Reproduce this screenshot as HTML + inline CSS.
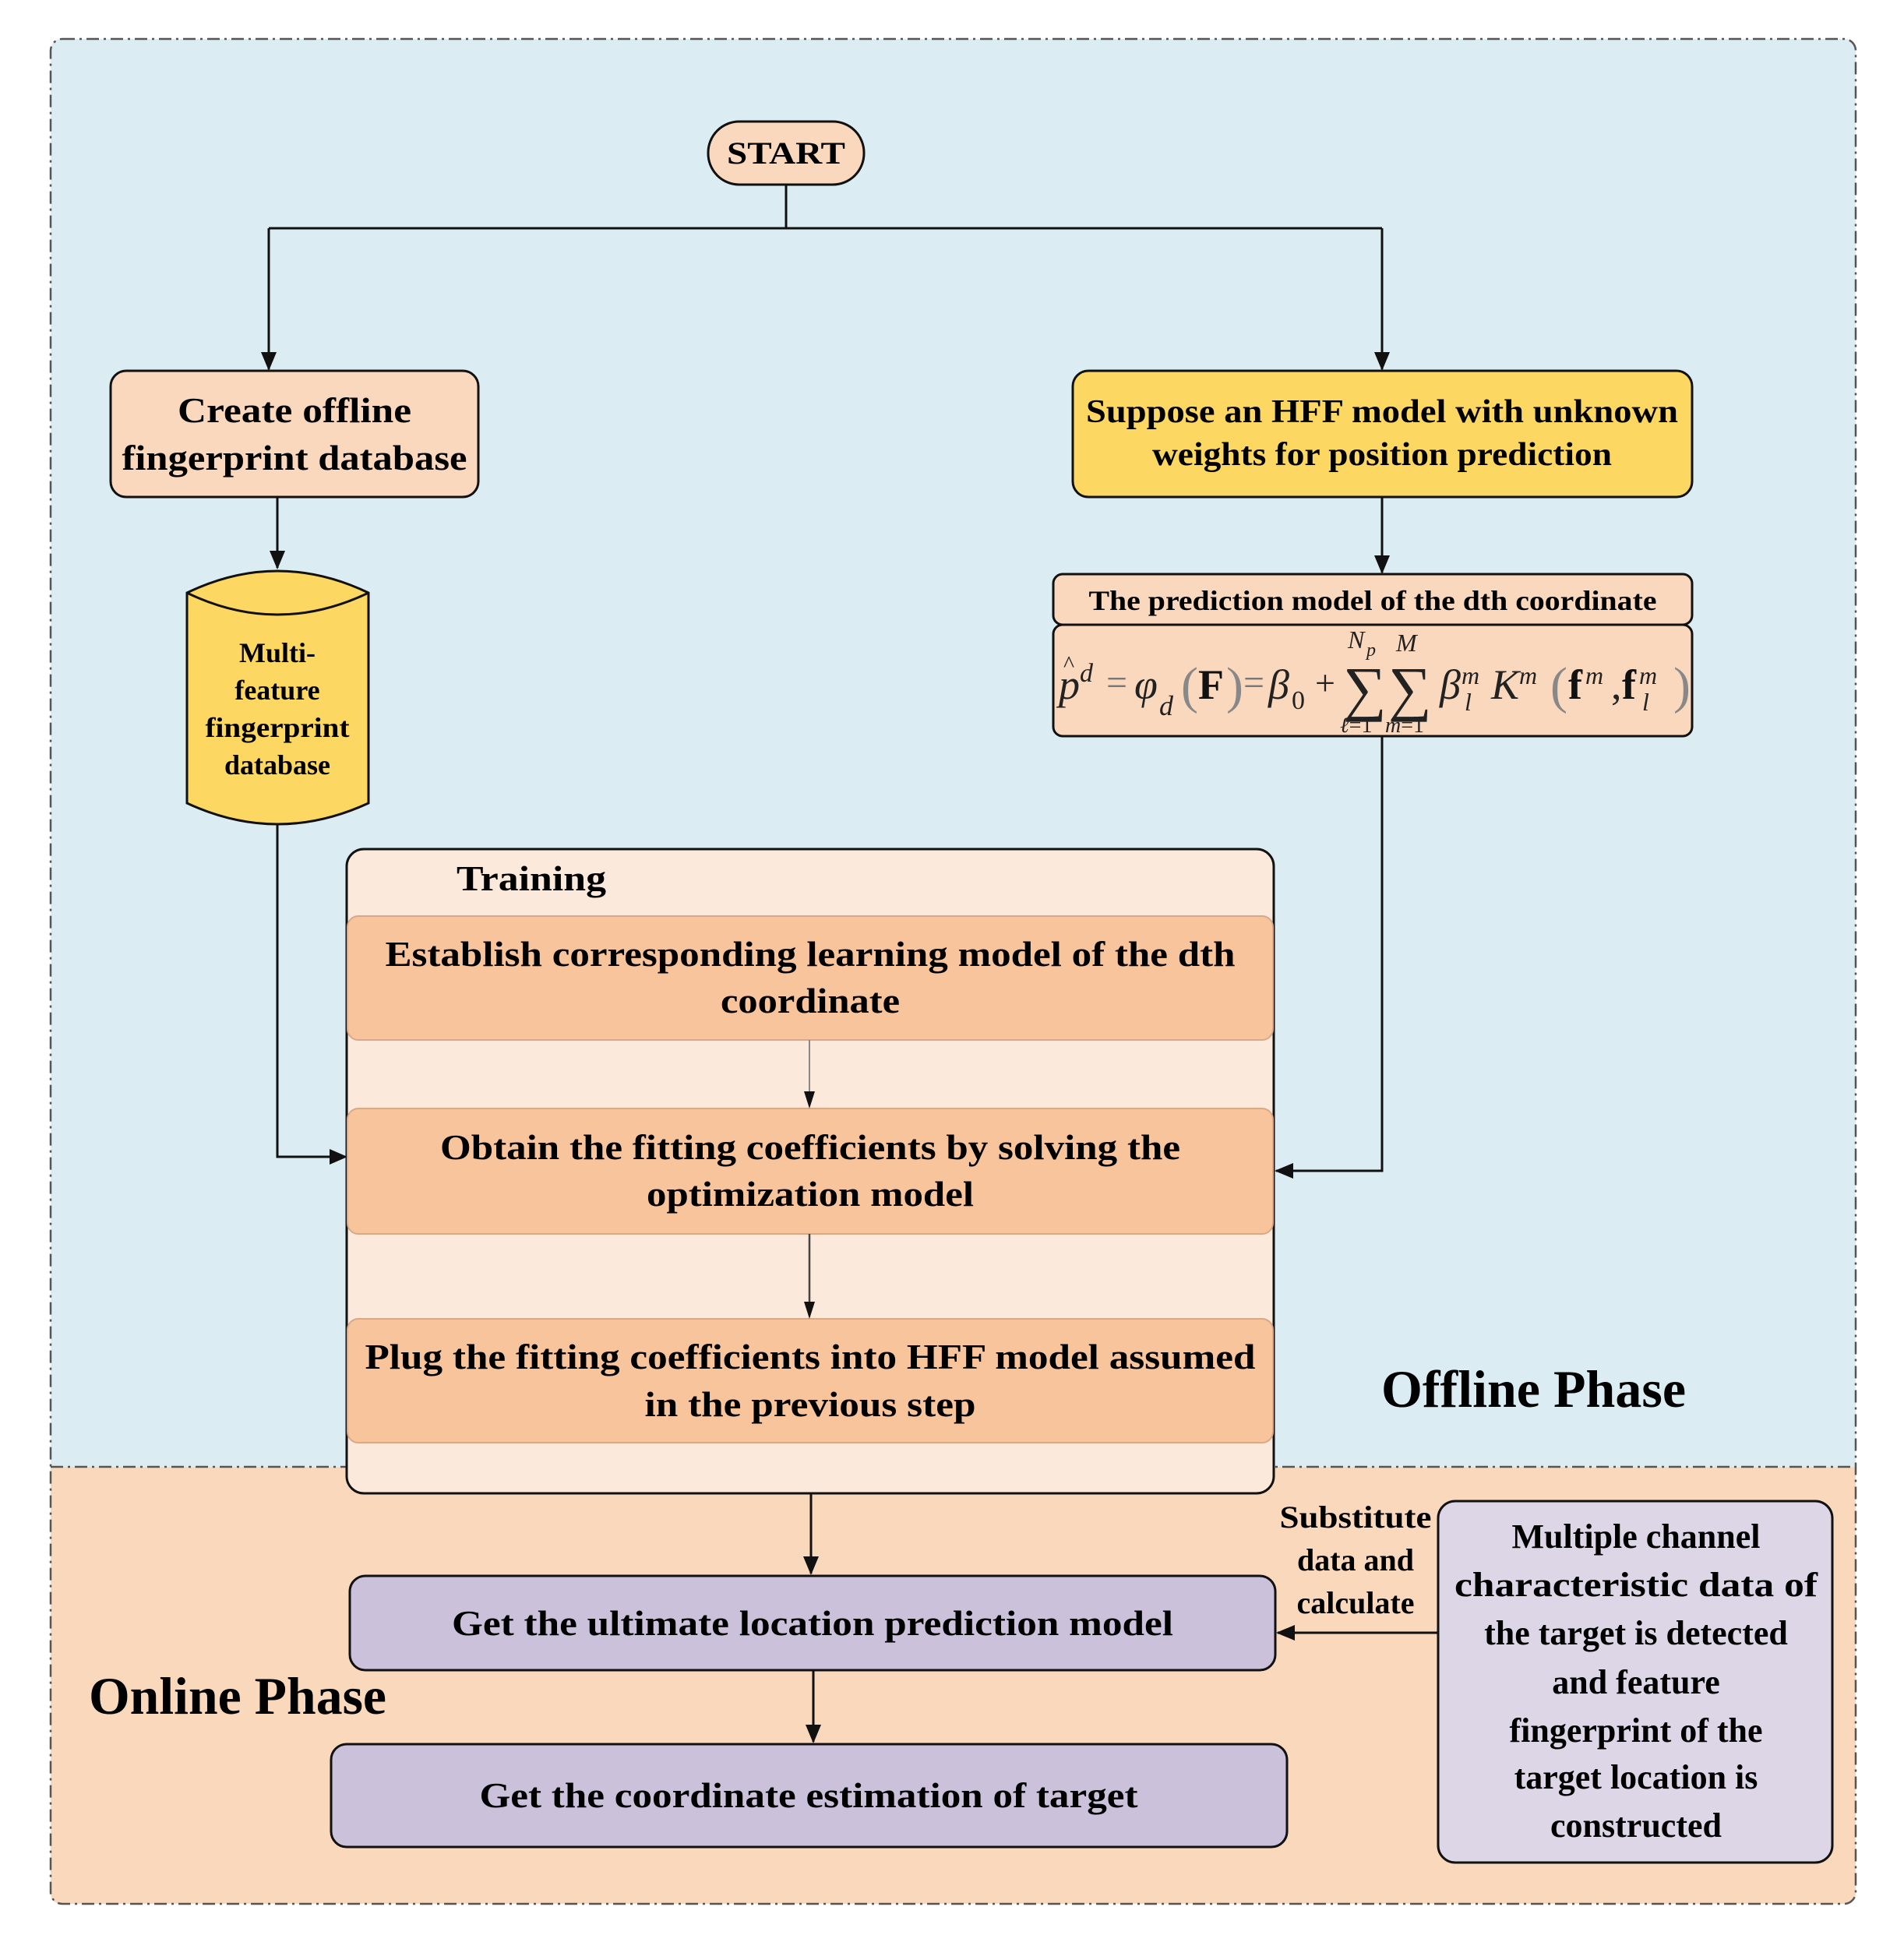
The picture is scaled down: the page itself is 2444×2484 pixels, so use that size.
<!DOCTYPE html>
<html><head><meta charset="utf-8"><style>html,body{margin:0;padding:0;background:#fff}svg{display:block}</style></head>
<body>
<svg width="2444" height="2484" viewBox="0 0 2444 2484" xmlns="http://www.w3.org/2000/svg" font-family="'Liberation Serif', serif" font-weight="bold">
<path d="M80,50 H2367 Q2382,50 2382,65 V1883 H65 V65 Q65,50 80,50 Z" fill="#dbedf3"/>
<path d="M65,1883 H2382 V2429 Q2382,2444 2367,2444 H80 Q65,2444 65,2429 Z" fill="#f9d8bb"/>
<rect x="65" y="50" width="2317" height="2394" rx="15" fill="none" stroke="#555" stroke-width="2.5" stroke-dasharray="16,6,3,6"/>
<line x1="65" y1="1883" x2="2382" y2="1883" stroke="#555" stroke-width="2.5" stroke-dasharray="16,6,3,6"/>

<g stroke="#111" stroke-width="3" fill="none">
<polyline points="1009,237 1009,293"/>
<polyline points="345,293 1774,293"/>
<line x1="345" y1="293" x2="345" y2="474"/>
<line x1="1774" y1="293" x2="1774" y2="474"/>
<line x1="356" y1="638" x2="356" y2="729"/>
<line x1="1774" y1="638" x2="1774" y2="735"/>
<polyline points="1774,945 1774,1503 1638,1503"/>
<polyline points="356,1058 356,1485 443,1485"/>
<line x1="1041" y1="1917" x2="1041" y2="2020"/>
<line x1="1044" y1="2144" x2="1044" y2="2236"/>
<line x1="1846" y1="2096" x2="1640" y2="2096"/>
</g>
<g fill="#111">
<path d="M335,452 L355,452 L345,476 Z"/>
<path d="M1764,452 L1784,452 L1774,476 Z"/>
<path d="M346,707 L366,707 L356,731 Z"/>
<path d="M1764,713 L1784,713 L1774,737 Z"/>
<path d="M1660,1493 L1660,1513 L1636,1503 Z"/>
<path d="M423,1475 L423,1495 L446,1485 Z"/>
<path d="M1031,1998 L1051,1998 L1041,2022 Z"/>
<path d="M1034,2214 L1054,2214 L1044,2238 Z"/>
<path d="M1662,2086 L1662,2106 L1638,2096 Z"/>
</g>

<rect x="909" y="156" width="200" height="81" rx="40" fill="#f9d8bd" stroke="#111" stroke-width="3"/>
<text x="1009" y="210" font-size="40" text-anchor="middle" textLength="152" lengthAdjust="spacingAndGlyphs">START</text>

<rect x="142" y="476" width="472" height="162" rx="20" fill="#f9d8bd" stroke="#111" stroke-width="3"/>
<text x="378" y="542" font-size="46" text-anchor="middle" textLength="300" lengthAdjust="spacingAndGlyphs">Create offline</text>
<text x="378" y="603" font-size="46" text-anchor="middle" textLength="443" lengthAdjust="spacingAndGlyphs">fingerprint database</text>

<path d="M240,761 Q356,705 473,761 L473,1031 Q356,1085 240,1031 Z" fill="#fcd862" stroke="#111" stroke-width="3"/>
<path d="M240,761 Q356,817 473,761" fill="none" stroke="#111" stroke-width="3"/>
<g font-size="36" text-anchor="middle">
<text x="356" y="850">Multi-</text>
<text x="356" y="898">feature</text>
<text x="356" y="946" textLength="185" lengthAdjust="spacingAndGlyphs">fingerprint</text>
<text x="356" y="994">database</text>
</g>

<rect x="1377" y="476" width="795" height="162" rx="20" fill="#fcd862" stroke="#111" stroke-width="3"/>
<text x="1774" y="542" font-size="42" text-anchor="middle" textLength="760" lengthAdjust="spacingAndGlyphs">Suppose an HFF model with unknown</text>
<text x="1774" y="597" font-size="42" text-anchor="middle" textLength="590" lengthAdjust="spacingAndGlyphs">weights for position prediction</text>

<rect x="1352" y="737" width="820" height="65" rx="12" fill="#f9d8bd" stroke="#111" stroke-width="3"/>
<text x="1762" y="783" font-size="36" text-anchor="middle" textLength="729" lengthAdjust="spacingAndGlyphs">The prediction model of the dth coordinate</text>
<rect x="1352" y="802" width="820" height="143" rx="12" fill="#f9d8bd" stroke="#111" stroke-width="3"/>
<g font-weight="normal" font-style="italic" fill="#222">
<text x="1359" y="897" font-size="54">p</text>
<text x="1365" y="862" font-size="30" font-style="normal">^</text>
<text x="1386" y="875" font-size="34">d</text>
<text x="1420" y="892" font-size="48" font-style="normal" fill="#777">=</text>
<text x="1456" y="897" font-size="54">φ</text>
<text x="1488" y="918" font-size="36">d</text>
<text x="1516" y="902" font-size="66" font-style="normal" fill="#888">(</text>
<text x="1538" y="897" font-size="54" font-style="normal" font-weight="bold" fill="#111">F</text>
<text x="1574" y="902" font-size="66" font-style="normal" fill="#888">)</text>
<text x="1596" y="892" font-size="48" font-style="normal" fill="#777">=</text>
<text x="1628" y="897" font-size="54">β</text>
<text x="1658" y="910" font-size="34" font-style="normal">0</text>
<text x="1688" y="892" font-size="46" font-style="normal">+</text>
<text x="1724" y="910" font-size="78" font-style="normal">∑</text>
<text x="1730" y="832" font-size="32">N</text>
<text x="1754" y="842" font-size="24">p</text>
<text x="1720" y="940" font-size="28">ℓ<tspan font-style="normal">=1</tspan></text>
<text x="1782" y="910" font-size="78" font-style="normal">∑</text>
<text x="1792" y="836" font-size="32">M</text>
<text x="1778" y="940" font-size="28">m<tspan font-style="normal">=1</tspan></text>
<text x="1848" y="897" font-size="54">β</text>
<text x="1876" y="878" font-size="32">m</text>
<text x="1880" y="912" font-size="32">l</text>
<text x="1914" y="897" font-size="54">K</text>
<text x="1950" y="878" font-size="32">m</text>
<text x="1990" y="902" font-size="66" font-style="normal" fill="#888">(</text>
<text x="2013" y="897" font-size="54" font-style="normal" font-weight="bold" fill="#111">f</text>
<text x="2035" y="878" font-size="32">m</text>
<text x="2068" y="897" font-size="54" font-style="normal">,</text>
<text x="2082" y="897" font-size="54" font-style="normal" font-weight="bold" fill="#111">f</text>
<text x="2104" y="878" font-size="32">m</text>
<text x="2108" y="912" font-size="32">l</text>
<text x="2148" y="902" font-size="66" font-style="normal" fill="#888">)</text>
</g>

<rect x="445" y="1090" width="1190" height="827" rx="22" fill="#fbe9db" stroke="#111" stroke-width="3"/>
<text x="586" y="1143" font-size="46" textLength="192" lengthAdjust="spacingAndGlyphs">Training</text>
<g fill="#f8c49b" stroke="#d9a888" stroke-width="2">
<rect x="446" y="1176" width="1188" height="159" rx="14"/>
<rect x="446" y="1423" width="1188" height="161" rx="14"/>
<rect x="446" y="1693" width="1188" height="159" rx="14"/>
</g>
<line x1="1039" y1="1335" x2="1039" y2="1405" stroke="#888" stroke-width="2"/>
<path d="M1032,1401 L1046,1401 L1039,1423 Z" fill="#111"/>
<line x1="1039" y1="1584" x2="1039" y2="1675" stroke="#444" stroke-width="2.5"/>
<path d="M1032,1671 L1046,1671 L1039,1693 Z" fill="#111"/>
<g font-size="46" text-anchor="middle">
<text x="1040" y="1240" textLength="1091" lengthAdjust="spacingAndGlyphs">Establish corresponding learning model of the dth</text>
<text x="1040" y="1300" textLength="230" lengthAdjust="spacingAndGlyphs">coordinate</text>
<text x="1040" y="1488" textLength="950" lengthAdjust="spacingAndGlyphs">Obtain the fitting coefficients by solving the</text>
<text x="1040" y="1548" textLength="420" lengthAdjust="spacingAndGlyphs">optimization model</text>
<text x="1040" y="1757" textLength="1143" lengthAdjust="spacingAndGlyphs">Plug the fitting coefficients into HFF model assumed</text>
<text x="1040" y="1818" textLength="425" lengthAdjust="spacingAndGlyphs">in the previous step</text>
</g>

<text x="1773" y="1806" font-size="68" textLength="391" lengthAdjust="spacingAndGlyphs">Offline Phase</text>
<text x="114" y="2200" font-size="68" textLength="382" lengthAdjust="spacingAndGlyphs">Online Phase</text>

<rect x="449" y="2023" width="1188" height="121" rx="20" fill="#cbc1da" stroke="#111" stroke-width="3"/>
<text x="1043" y="2099" font-size="46" text-anchor="middle" textLength="926" lengthAdjust="spacingAndGlyphs">Get the ultimate location prediction model</text>
<rect x="425" y="2239" width="1227" height="132" rx="20" fill="#cbc1da" stroke="#111" stroke-width="3"/>
<text x="1038" y="2320" font-size="46" text-anchor="middle" textLength="845" lengthAdjust="spacingAndGlyphs">Get the coordinate estimation of target</text>

<g font-size="40" text-anchor="middle">
<text x="1740" y="1961" textLength="195" lengthAdjust="spacingAndGlyphs">Substitute</text>
<text x="1740" y="2016">data and</text>
<text x="1740" y="2071">calculate</text>
</g>

<rect x="1846" y="1927" width="506" height="464" rx="22" fill="#dcd6e6" stroke="#111" stroke-width="3"/>
<g font-size="44" text-anchor="middle">
<text x="2100" y="1987">Multiple channel</text>
<text x="2100" y="2049" textLength="466" lengthAdjust="spacingAndGlyphs">characteristic data of</text>
<text x="2100" y="2111">the target is detected</text>
<text x="2100" y="2174">and feature</text>
<text x="2100" y="2236">fingerprint of the</text>
<text x="2100" y="2296">target location is</text>
<text x="2100" y="2358">constructed</text>
</g>
</svg>
</body></html>
